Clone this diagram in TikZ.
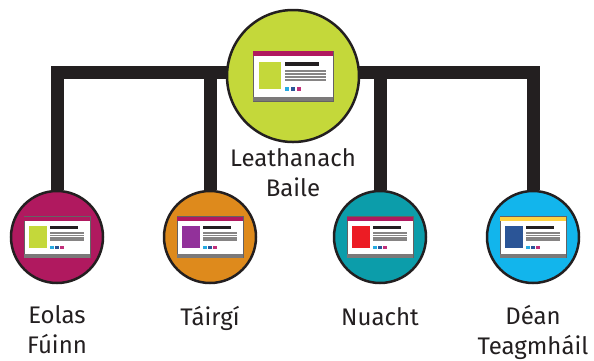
\documentclass[tikz,border=0pt]{standalone}
\usepackage{fontspec}
\setmainfont{Fira Sans}
\usetikzlibrary{positioning,backgrounds}
\definecolor{ink}{HTML}{231F20}
\definecolor{lime}{HTML}{C4D83A}
\definecolor{plum}{HTML}{B0195F}
\definecolor{amber}{HTML}{DE8A1C}
\definecolor{teal}{HTML}{0C9DAA}
\definecolor{sky}{HTML}{12B5EC}
\definecolor{sun}{HTML}{FFD23F}
\definecolor{violet}{HTML}{92319A}
\definecolor{scarlet}{HTML}{EC1C24}
\definecolor{navy}{HTML}{2B5597}
\definecolor{cyan}{HTML}{27AAE1}
\definecolor{rose}{HTML}{C1307A}
\newcommand{\webicon}[4]{%
  \begin{scope}[shift={#1}, scale=#2]
    \fill[white, draw=ink!70, line width=0.6pt] (-40,-25) rectangle (40,25);
    \fill[#3] (-40,-25) rectangle (40,-20);
    \fill[ink!60] (-40,21) rectangle (40,25);
    \fill[#4] (-34,-14) rectangle (-12,13);
    \fill[ink] (-8,-14) rectangle (26,-10);
    \foreach \y in {-6,-3,0,3}
      \fill[ink!55] (-8,\y) rectangle (33,\y+2);
    \fill[cyan] (-8,11) rectangle (-4,15);
    \fill[navy] (-2,11) rectangle (2,15);
    \fill[rose] (4,11) rectangle (8,15);
  \end{scope}}
\begin{document}
\begin{tikzpicture}[x=1pt, y=-1pt,
    page/.style={circle, draw=ink, line width=2.5pt, inner sep=0pt},
    link/.style={draw=ink, line width=13pt, line join=miter},
    lbl/.style={text=ink, font=\fontsize{24}{30}\selectfont, align=center, inner sep=0pt,
      execute at begin node={\rule{0pt}{20pt}}}]
  \useasboundingbox (0,0) rectangle (594,360);
  \node[page, fill=lime, minimum size=132pt] at(293,76) (baile) {};
  \node[page, fill=plum, minimum size=92pt] at(57,237) (eolas) {};
  \node[page, fill=amber, minimum size=92pt] at(210,237) (tairgi) {};
  \node[page, fill=teal, minimum size=92pt] at(380,237) (nuacht) {};
  \node[page, fill=sky, minimum size=92pt] at(533,237) (teagmhail) {};
  \node[lbl, below=5pt of baile] (lbaile) {Leathanach\\Baile};
  \node[lbl, below=21pt of eolas] (leolas) {Eolas\\Fúinn};
  \node[lbl, below=21pt of tairgi] (ltairgi) {Táirgí};
  \node[lbl, below=21pt of nuacht] (lnuacht) {Nuacht};
  \node[lbl, below=21pt of teagmhail] (lteagmhail) {Déan\\Teagmháil};
  \begin{scope}[on background layer]
    \draw[link] ([yshift=4pt]baile.center) -| (eolas);
    \draw[link] ([yshift=4pt]baile.center) -| (tairgi);
    \draw[link] ([yshift=4pt]baile.center) -| (nuacht);
    \draw[link] ([yshift=4pt]baile.center) -| (teagmhail);
  \end{scope}
  \webicon{(baile.center)}{1}{plum}{lime}
  \webicon{(eolas.center)}{0.82}{plum}{lime}
  \webicon{(tairgi.center)}{0.82}{plum}{violet}
  \webicon{(nuacht.center)}{0.82}{plum}{scarlet}
  \webicon{(teagmhail.center)}{0.82}{sun}{navy}
\end{tikzpicture}
\end{document}
